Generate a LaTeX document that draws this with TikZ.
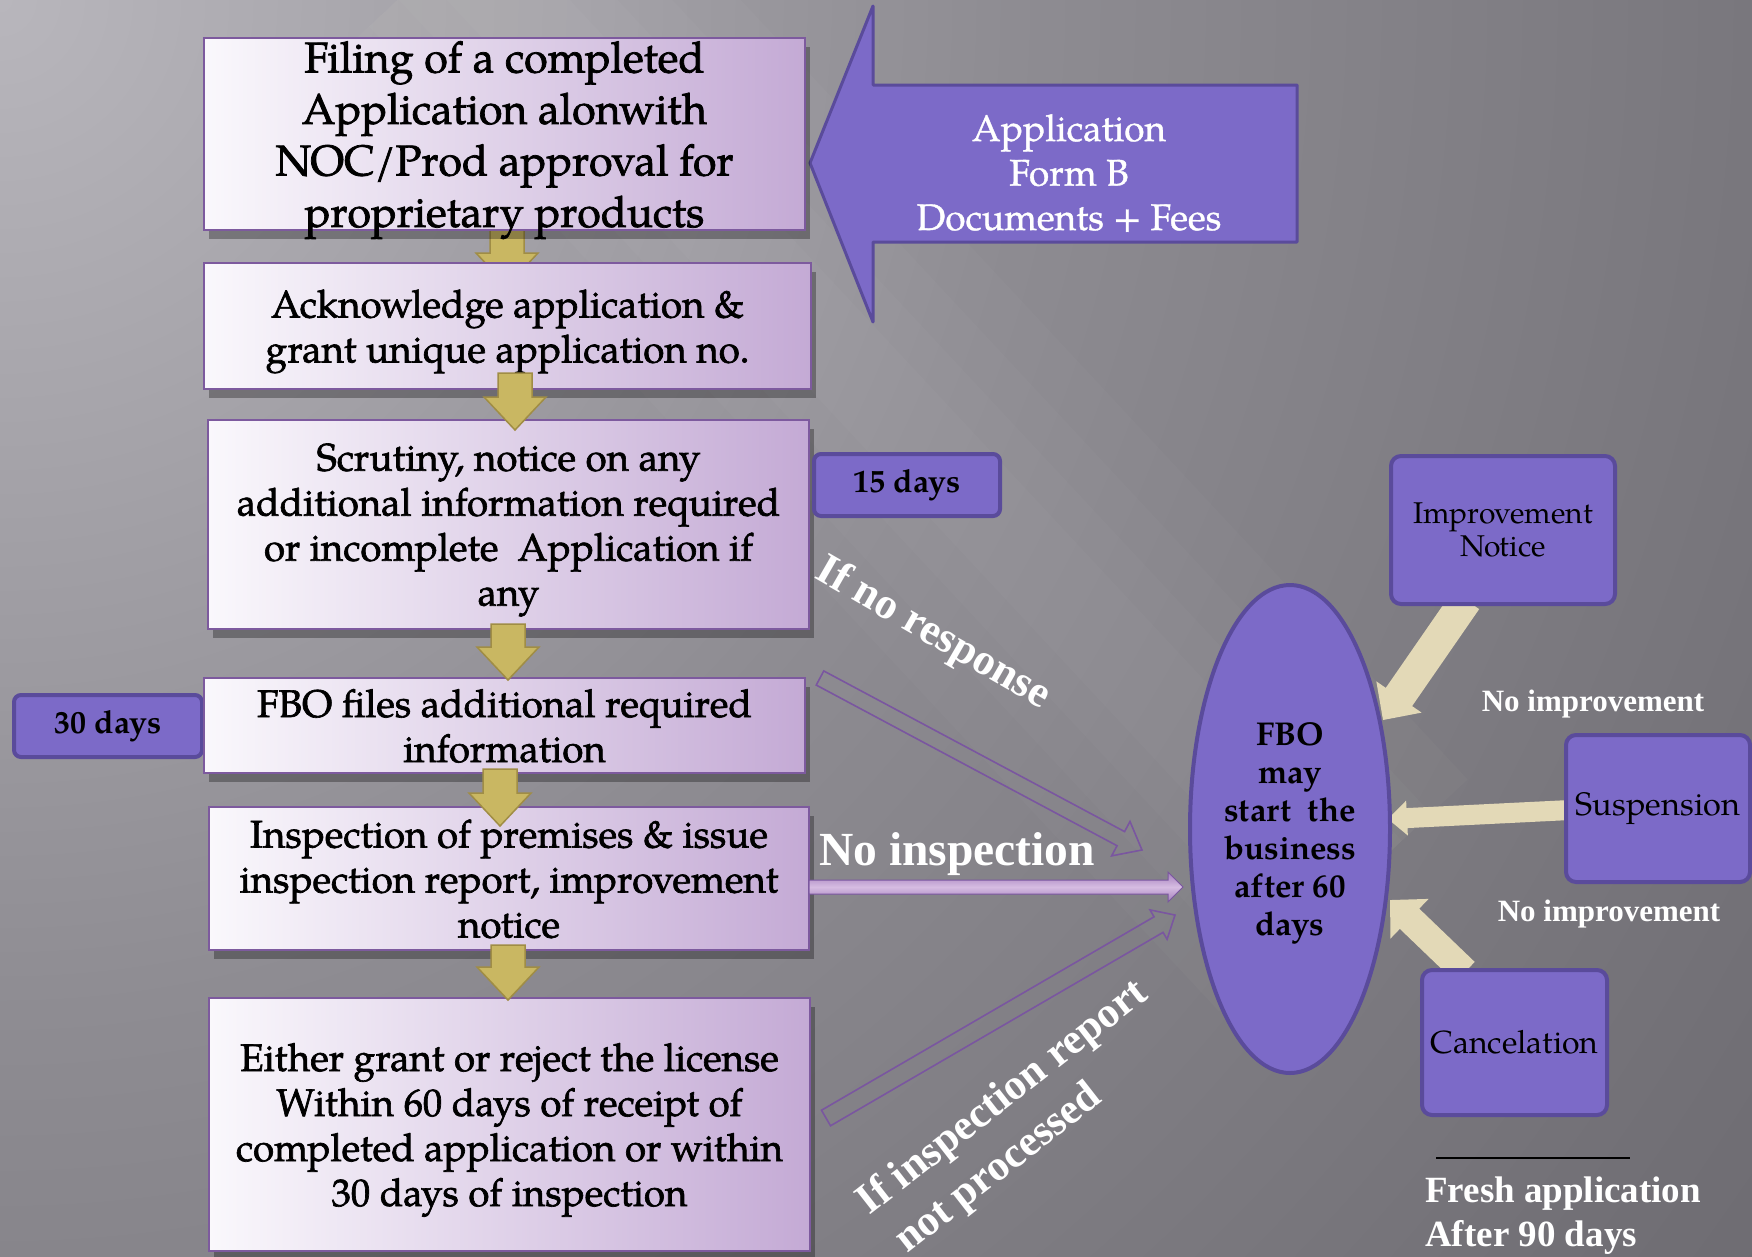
\documentclass[tikz,border=0pt]{standalone}
\usepackage{fontspec}
\setmainfont{texgyrepagella}[Extension=.otf,UprightFont=*-regular,BoldFont=*-bold,ItalicFont=*-italic,BoldItalicFont=*-bolditalic]
\newfontfamily\boxfont{texgyrepagella}[Extension=.otf,UprightFont=*-regular,BoldFont=*-bold,FakeBold=1.7]
\newfontfamily\semifont{texgyrepagella}[Extension=.otf,UprightFont=*-regular,BoldFont=*-bold,FakeBold=1]
\newfontfamily\palbold{texgyrepagella}[Extension=.otf,UprightFont=*-bold]
\newfontfamily\tnr{Liberation Serif}
\usetikzlibrary{shapes.geometric,shadows}

\definecolor{bgdark}{HTML}{56545A}
\definecolor{bgd3}{HTML}{59575D}
\definecolor{bgd2}{HTML}{605E64}
\definecolor{bgmid}{HTML}{727076}
\definecolor{bgm2}{HTML}{8E8C92}
\definecolor{bglight}{HTML}{B8B6BC}
\definecolor{lilacL}{HTML}{FAF8FC}
\definecolor{lilacR}{HTML}{C4AAD5}
\definecolor{lilacB}{HTML}{7D5A9E}
\definecolor{purp}{HTML}{7C6AC8}
\definecolor{purpB}{HTML}{5A4B9B}
\definecolor{gold}{HTML}{C9B762}
\definecolor{goldB}{HTML}{A08D45}
\definecolor{cream}{HTML}{E3D9B7}
\definecolor{arrowline}{HTML}{7A56A0}
\definecolor{niL}{HTML}{D6BCE2}
\definecolor{niD}{HTML}{A37EBB}

\pgfdeclareradialshading{bgrad}{\pgfpoint{0bp}{0bp}}{color(0bp)=(bglight); color(11bp)=(bgm2); color(21.7bp)=(bgmid); color(30.4bp)=(bgd2); color(39bp)=(bgd3); color(50bp)=(bgdark)}

\newcommand\blockarr[6]{%
  \path (#2); \pgfgetlastxy{\ArrAx}{\ArrAy}%
  \path (#3); \pgfgetlastxy{\ArrBx}{\ArrBy}%
  \pgfmathsetmacro\ArrAng{atan2((\ArrBy)-(\ArrAy),(\ArrBx)-(\ArrAx))}%
  \pgfmathsetmacro\ArrLen{veclen((\ArrBx)-(\ArrAx),(\ArrBy)-(\ArrAy))}%
  \begin{scope}[shift={(#2)}, rotate=\ArrAng, x=1pt, y=1pt]
    \path[#1] (0,-#4) -- ({\ArrLen-#6},-#4) -- ({\ArrLen-#6},-#5) -- (\ArrLen,0)
      -- ({\ArrLen-#6},#5) -- ({\ArrLen-#6},#4) -- (0,#4) -- cycle;
  \end{scope}}

\tikzset{
  lilac/.style={draw=lilacB, line width=2.2pt, left color=lilacL, right color=lilacR,
    inner sep=0pt, align=center, text=black, text depth=0pt,
    font=\boxfont\fontsize{38.5}{45}\selectfont,
    drop shadow={shadow xshift=5pt, shadow yshift=-9pt, opacity=0.3, fill=black}},
  purpbox/.style={draw=purpB, line width=4pt, fill=purp, rounded corners=10pt,
    inner sep=0pt, align=center, text=black},
  goldarr/.style={fill=gold, draw=goldB, line width=1.5pt},
  creamarr/.style={fill=cream},
  outarr/.style={draw=arrowline, line width=1.6pt},
  niarr/.style={top color=niD, bottom color=niD, middle color=niL, draw=arrowline, line width=1pt},
  wlabel/.style={text=white, inner sep=0pt},
}

\begin{document}
\begin{tikzpicture}[x=1pt,y=-1pt]
\useasboundingbox (0,0) rectangle (1752,1256);
% background
\begin{scope}
  \clip (0,0) rectangle (1752,1256);
  \fill[bgdark] (0,0) rectangle (1752,1256);
  \shade[shading=bgrad] (0,0) circle (2300);
  \begin{scope}[shift={(900,420)}, rotate=-47]
    \foreach \w in {170,120,80,45} {\fill[white, opacity=0.022] (-650,-\w) rectangle (650,\w);}
  \end{scope}
\end{scope}

% big input arrow
\filldraw[fill=purp, draw=purpB, line width=3pt, line join=round]
  (810,163) -- (873,6) -- (873,85) -- (1297,85) -- (1297,242) -- (873,242) -- (873,322) -- cycle;
\node[text=white, font=\semifont\fontsize{37}{44.5}\selectfont, align=center] (appl) at (1069,173)
  {Application\\Form B\\Documents + Fees};

% first gold arrow (behind box 2)
\coordinate (g1t) at (507,226); \coordinate (g1h) at (507,286);
\blockarr{goldarr}{g1t}{g1h}{17}{31}{33}

% lilac boxes
\node[lilac, minimum width=601pt, minimum height=192pt, font=\boxfont\fontsize{43}{51.5}\selectfont] (b1) at (504.5,134)
  {Filing of a completed\\Application alonwith\\NOC/Prod approval for\\proprietary products};
\node[lilac, minimum width=607pt, minimum height=126pt] (b2) at (507.5,326)
  {Acknowledge application \&\\grant unique application no.};
\node[lilac, minimum width=601pt, minimum height=209pt] (b3) at (508.5,524.5)
  {Scrutiny, notice on any\\additional information required\\or incomplete~ Application if\\any};
\node[purpbox, minimum width=188pt, minimum height=62pt, rounded corners=7pt, font=\palbold\fontsize{32}{36}\selectfont] (d30) at (108,726) {30 days};
\node[lilac, minimum width=601pt, minimum height=95pt] (b4) at (504.5,725.5)
  {FBO files additional required\\information};
\node[lilac, minimum width=600pt, minimum height=143pt] (b5) at (509,878.5)
  {Inspection of premises \& issue\\inspection report, improvement\\notice};
\node[lilac, minimum width=601pt, minimum height=253pt] (b6) at (509.5,1124.5)
  {Either grant or reject the license\\Within 60 days of receipt of\\completed application or within\\30 days of inspection};

% gold arrows on top
\coordinate (g2t) at (515,373); \coordinate (g2h) at (515,430);
\coordinate (g3t) at (508,624); \coordinate (g3h) at (508,680);
\coordinate (g4t) at (500,769); \coordinate (g4h) at (500,826);
\coordinate (g5t) at (508,945); \coordinate (g5h) at (508,1000);
\blockarr{goldarr}{g2t}{g2h}{17}{31}{33}
\blockarr{goldarr}{g3t}{g3h}{17}{31}{33}
\blockarr{goldarr}{g4t}{g4h}{17}{31}{33}
\blockarr{goldarr}{g5t}{g5h}{17}{31}{33}

% 15 days
\node[purpbox, minimum width=186pt, minimum height=62pt, rounded corners=7pt, font=\palbold\fontsize{32}{36}\selectfont] (d15) at (907,485) {15 days};

% connectors to FBO
\coordinate (r1) at (820,678); \coordinate (r2) at (1142,850);
\coordinate (n1) at (809,887); \coordinate (n2) at (1183,887);
\coordinate (p1) at (826,1118); \coordinate (p2) at (1175,915);
\blockarr{outarr}{r1}{r2}{8}{19.5}{24}
\blockarr{niarr}{n1}{n2}{7}{15}{15}
\blockarr{outarr}{p1}{p2}{9}{17}{19}

% cream arrows
\coordinate (c1t) at (1466,600); \coordinate (c1h) at (1383,720);
\coordinate (c2t) at (1570,810); \coordinate (c2h) at (1388,819);
\coordinate (c3t) at (1465,972); \coordinate (c3h) at (1390,900);
\blockarr{creamarr}{c1t}{c1h}{16}{27.5}{28}
\blockarr{creamarr}{c2t}{c2h}{10}{17.5}{19}
\blockarr{creamarr}{c3t}{c3h}{14}{27.5}{27}

% FBO ellipse and right boxes
\node[ellipse, draw=purpB, line width=4pt, fill=purp, minimum width=200pt, minimum height=488pt, inner sep=0pt,
  align=center, text depth=0pt, font=\palbold\fontsize{33}{38}\selectfont] (fbo) at (1290,829)
  {FBO\\may\\start~ the\\business\\after 60\\days};
\node[purpbox, minimum width=224pt, minimum height=148pt, font=\fontsize{30}{32.5}\selectfont] (imp) at (1503,530) {Improvement\\Notice};
\node[purpbox, minimum width=184pt, minimum height=147pt, font=\fontsize{32.5}{36}\selectfont] (sus) at (1658,808.5) {Suspension};
\node[purpbox, minimum width=185pt, minimum height=145pt, font=\fontsize{32}{36}\selectfont] (can) at (1514.5,1042.5) {Cancelation};

% labels
\node[wlabel, rotate=-30, font=\tnr\bfseries\fontsize{44}{50}\selectfont] (lnr) at (933,634) {If no response};
\node[wlabel, anchor=base west, font=\tnr\bfseries\fontsize{47.5}{52}\selectfont] (lni) at (819,865) {No inspection};
\node[wlabel, rotate=38, anchor=north west, align=left, font=\tnr\bfseries\fontsize{43}{53}\selectfont] (lip) at (851,1192)
  {If inspection report\\\hspace*{6pt}not processed};
\node[wlabel, font=\tnr\bfseries\fontsize{31}{35}\selectfont] (lno1) at (1593,704) {No improvement};
\node[wlabel, font=\tnr\bfseries\fontsize{31}{35}\selectfont] (lno2) at (1609,914) {No improvement};
\coordinate (fl1) at (1436,1158); \coordinate (fl2) at (1630,1158);
\draw[black, line width=2pt] (fl1) -- (fl2);
\node[wlabel, anchor=west, align=left, font=\tnr\bfseries\fontsize{37}{44}\selectfont] (fresh) at (1425,1216)
  {Fresh application\\After 90 days};
\end{tikzpicture}
\end{document}
